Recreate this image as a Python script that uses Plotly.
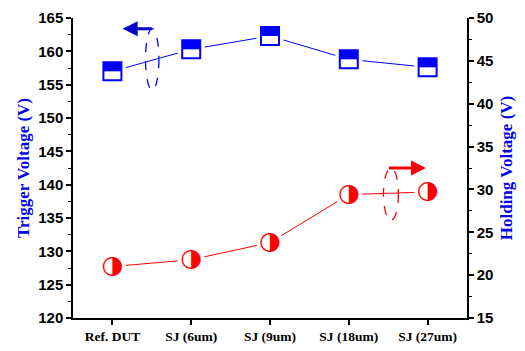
import plotly.graph_objects as go

categories = ["Ref. DUT", "SJ (6um)", "SJ (9um)", "SJ (18um)", "SJ (27um)"]
trigger_v = [157.0, 160.3, 162.3, 158.8, 157.6]
holding_v = [21.0, 21.8, 23.8, 29.4, 29.7]
left_ticks = [120, 125, 130, 135, 140, 145, 150, 155, 160, 165]
right_ticks = [15, 20, 25, 30, 35, 40, 45, 50]

BLUE = "#0000ff"
RED = "#ff0000"
half_fill = 1.38  # half-height of square marker, in left-axis units

fig = go.Figure()
# trigger voltage (left axis)
fig.add_trace(go.Scatter(x=categories, y=trigger_v, mode="lines",
                         line=dict(color=BLUE, width=1), yaxis="y", showlegend=False))
fig.add_trace(go.Scatter(x=categories, y=trigger_v, mode="markers",
                         marker=dict(symbol="square", size=27, color="white", line=dict(width=0)),
                         yaxis="y", showlegend=False))
fig.add_trace(go.Scatter(x=categories, y=trigger_v, mode="markers",
                         marker=dict(symbol="square-open", size=18, color=BLUE, line=dict(width=2, color=BLUE)),
                         error_y=dict(type="data", symmetric=False, array=[half_fill]*len(trigger_v),
                                      arrayminus=[0]*len(trigger_v), thickness=18, width=0, color=BLUE),
                         yaxis="y", showlegend=False))
# holding voltage (right axis)
fig.add_trace(go.Scatter(x=categories, y=holding_v, mode="lines",
                         line=dict(color=RED, width=1), yaxis="y2", showlegend=False))
fig.add_trace(go.Scatter(x=categories, y=holding_v, mode="markers",
                         marker=dict(symbol="circle", size=27, color="white", line=dict(width=0)),
                         yaxis="y2", showlegend=False))
fig.add_trace(go.Scatter(x=categories, y=holding_v, mode="text", text=["\u25D1"]*len(holding_v),
                         textposition="middle center",
                         textfont=dict(family="DejaVu Sans", size=25, color=RED),
                         yaxis="y2", showlegend=False))

tickfont = dict(family="Liberation Sans", size=15, color="black")
titlefont = dict(family="Liberation Serif", size=17, color="#0000ee")

fig.update_layout(
    width=517, height=343,
    margin=dict(l=65, r=58, t=10, b=33, autoexpand=False),
    plot_bgcolor="white", paper_bgcolor="white",
    xaxis=dict(range=[-0.5, 4.5], showline=True, linecolor="black", linewidth=1.5,
               ticks="outside", ticklen=5, tickwidth=1.5, tickcolor="black",
               tickmode="array", tickvals=categories,
               ticktext=["<b>%s</b>" % c for c in categories],
               tickfont=dict(family="Liberation Serif", size=13.5, color="black"),
               showgrid=False, zeroline=False, automargin=False, ticklabeloverflow="allow"),
    yaxis=dict(range=[120, 165], showline=True, linecolor="black", linewidth=1.5,
               tickmode="array", tickvals=left_ticks, ticktext=["<b>%d</b>" % v for v in left_ticks],
               ticks="outside", ticklen=5, tickwidth=1.5, tickcolor="black",
               minor=dict(dtick=2.5, ticks="outside", ticklen=3, tickwidth=1.2, tickcolor="black"),
               tickfont=tickfont, showgrid=False, zeroline=False, automargin=False,
               ticklabeloverflow="allow",
               title=dict(text="<b>Trigger Voltage (V)</b>", font=titlefont, standoff=4)),
    yaxis2=dict(range=[15, 50], overlaying="y", side="right", showline=True,
                linecolor="black", linewidth=1.5,
                tickmode="array", tickvals=right_ticks, ticktext=["<b>%d</b>" % v for v in right_ticks],
                ticks="outside", ticklen=5, tickwidth=1.5, tickcolor="black",
                minor=dict(dtick=2.5, ticks="outside", ticklen=3, tickwidth=1.2, tickcolor="black"),
                tickfont=tickfont, showgrid=False, zeroline=False, automargin=False,
                ticklabeloverflow="allow",
                title=dict(text="<b>Holding Voltage (V)</b>", font=titlefont, standoff=8)),
)

# decorations: dashed ellipses with arrows pointing to each axis
fig.add_shape(type="circle", xref="x", yref="y", x0=0.42, x1=0.59, y0=154.2, y1=163.4,
              line=dict(color=BLUE, width=1.3, dash="dash"))
fig.add_annotation(x=0.13, y=163.4, ax=0.52, ay=163.4, xref="x", yref="y", axref="x", ayref="y",
                   showarrow=True, arrowhead=2, arrowsize=1, arrowwidth=3, arrowcolor="#0000cc", text="")
fig.add_shape(type="circle", xref="x", yref="y2", x0=3.44, x1=3.63, y0=26.4, y1=32.5,
              line=dict(color=RED, width=1.3, dash="dash"))
fig.add_annotation(x=3.98, y=32.5, ax=3.49, ay=32.5, xref="x", yref="y2", axref="x", ayref="y2",
                   showarrow=True, arrowhead=2, arrowsize=1, arrowwidth=3, arrowcolor=RED, text="")

fig.write_html("out.html")
